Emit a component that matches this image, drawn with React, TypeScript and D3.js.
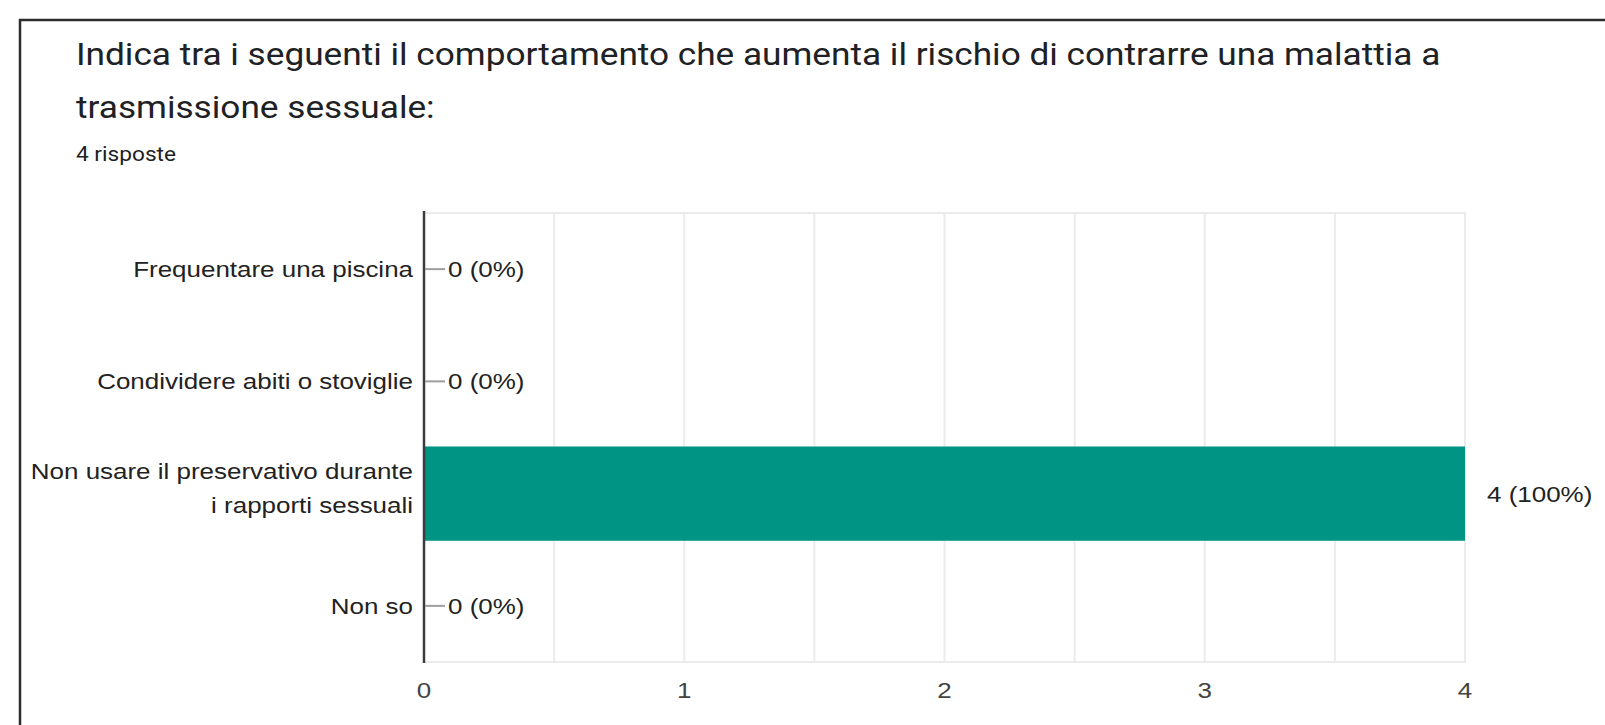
import React from "react";
import * as d3 from "d3";

const titleLines = [
  "Indica tra i seguenti il comportamento che aumenta il rischio di contrarre una malattia a",
  "trasmissione sessuale:",
];
const subtitle = "4 risposte";
const categories = [
  "Frequentare una piscina",
  "Condividere abiti o stoviglie",
  "Non usare il preservativo durante i rapporti sessuali",
  "Non so",
];
const categoryLines = [
  ["Frequentare una piscina"],
  ["Condividere abiti o stoviglie"],
  ["Non usare il preservativo durante", "i rapporti sessuali"],
  ["Non so"],
];
const values = [0, 0, 4, 0];
const total = 4;
const xTicks = [0, 1, 2, 3, 4];
const gridValues = [0.5, 1, 1.5, 2, 2.5, 3, 3.5, 4];

const W = 1605;
const H = 725;
const TITLE_FONT = "Roboto, 'Noto Sans', sans-serif";
const LABEL_FONT = "'Liberation Sans', Arial, Helvetica, sans-serif";
const SX_TITLE = 1.1;
const SX_LABEL = 1.18;

type TProps = {
  x: number;
  y: number;
  sx: number;
  size: number;
  family: string;
  fill: string;
  anchor?: "start" | "middle" | "end";
  children: React.ReactNode;
};

function SText({ x, y, sx, size, family, fill, anchor = "start", children }: TProps) {
  return (
    <g transform={`translate(${x},${y}) scale(${sx},1)`}>
      <text x={0} y={0} fontSize={size} fontFamily={family} fill={fill} textAnchor={anchor}>
        {children}
      </text>
    </g>
  );
}

export default function App() {
  const x = d3.scaleLinear().domain([0, 4]).range([424, 1465]);
  const y = d3
    .scaleBand<string>()
    .domain(categories)
    .range([213, 662])
    .paddingInner(0.16)
    .paddingOuter(0.08);
  const bw = y.bandwidth();
  const top = 213;
  const bottom = 662;

  return (
    <svg
      width={W}
      height={H}
      style={{ position: "absolute", left: 0, top: 0, background: "#fff" }}
    >
      <rect x={0} y={0} width={W} height={H} fill="#fff" />
      {/* frame */}
      <line x1={19} y1={20} x2={W} y2={20} stroke="#2b2b2b" strokeWidth={2.5} />
      <line x1={20} y1={19} x2={20} y2={H} stroke="#2b2b2b" strokeWidth={2.5} />

      {/* title */}
      {titleLines.map((t, i) => (
        <SText key={i} x={76} y={65 + i * 53} sx={SX_TITLE} size={32} family={TITLE_FONT} fill="#202124">
          {t}
        </SText>
      ))}
      <SText x={76} y={161} sx={1.08} size={21} family={TITLE_FONT} fill="#202124">
        {subtitle}
      </SText>

      {/* grid */}
      {gridValues.map((g) => (
        <line
          key={g}
          x1={x(g)}
          x2={x(g)}
          y1={top}
          y2={bottom}
          stroke="#ebebeb"
          strokeWidth={2}
        />
      ))}
      <line x1={x(0)} x2={x(4) + 1} y1={bottom} y2={bottom} stroke="#ebebeb" strokeWidth={2} />
      <line x1={x(0)} x2={x(4) + 1} y1={top} y2={top} stroke="#ebebeb" strokeWidth={2} />

      {/* bars */}
      {categories.map((c, i) => (
        <rect
          key={c}
          x={x(0)}
          y={y(c)!}
          width={x(values[i]) - x(0)}
          height={bw}
          fill="#009485"
        />
      ))}

      {/* zero axis */}
      <line x1={x(0)} x2={x(0)} y1={top - 2} y2={bottom + 1} stroke="#3c3c3c" strokeWidth={2.5} />

      {/* category labels */}
      {categories.map((c, i) => {
        const cy = y(c)! + bw / 2;
        const lines = categoryLines[i];
        const lh = 34;
        const start = cy - ((lines.length - 1) * lh) / 2 - (lines.length > 1 ? 6 : 0);
        return (
          <g key={c}>
            {lines.map((l, j) => (
              <SText
                key={j}
                x={x(0) - 11}
                y={start + j * lh + 8}
                sx={SX_LABEL}
                size={22}
                family={LABEL_FONT}
                fill="#222"
                anchor="end"
              >
                {l}
              </SText>
            ))}
          </g>
        );
      })}

      {/* value labels */}
      {categories.map((c, i) => {
        const cy = y(c)! + bw / 2;
        const v = values[i];
        const label = `${v} (${Math.round((v / total) * 100)}%)`;
        if (v === 0) {
          return (
            <g key={c}>
              <line x1={x(0) + 1} x2={x(0) + 21} y1={cy} y2={cy} stroke="#9e9e9e" strokeWidth={2} />
              <SText x={x(0) + 24} y={cy + 8} sx={SX_LABEL} size={22} family={LABEL_FONT} fill="#222">
                {label}
              </SText>
            </g>
          );
        }
        return (
          <SText key={c} x={x(v) + 22} y={cy + 8} sx={SX_LABEL} size={22} family={LABEL_FONT} fill="#222">
            {label}
          </SText>
        );
      })}

      {/* x tick labels */}
      {xTicks.map((t) => (
        <SText key={t} x={x(t)} y={698} sx={SX_LABEL} size={22} family={LABEL_FONT} fill="#444" anchor="middle">
          {t}
        </SText>
      ))}
    </svg>
  );
}
